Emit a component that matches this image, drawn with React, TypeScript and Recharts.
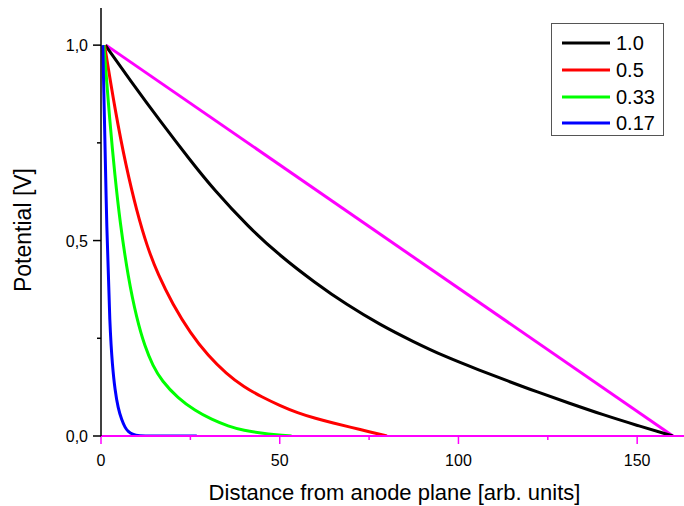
import { LineChart, Line, XAxis, YAxis, Legend, Label } from 'recharts';

// curves: x = distance, v = potential
const blackX = [1.2, 8, 17, 25, 31.4, 41.2, 50.1, 59.9, 68.7, 78, 87.4, 96, 106, 114, 121.9, 131, 140.5, 150, 160];
const blackV = [1.0, 0.912, 0.8, 0.705, 0.632, 0.535, 0.461, 0.392, 0.336, 0.285, 0.241, 0.204, 0.168, 0.14, 0.113, 0.084, 0.054, 0.027, 0.0];

const redX = [1, 4, 7, 10, 13, 16, 20, 25, 30, 35, 40, 45, 50, 55, 60, 65, 70, 75, 80];
const redV = [1.0, 0.83, 0.69, 0.575, 0.482, 0.412, 0.338, 0.263, 0.205, 0.16, 0.125, 0.1, 0.078, 0.059, 0.045, 0.033, 0.022, 0.011, 0.0];

const greenX = [0.8, 2.5, 3.9, 5.3, 7.6, 10, 12.3, 14.5, 17, 21.5, 26.3, 31, 35.6, 40, 44.9, 49, 53.3];
const greenV = [1.0, 0.8, 0.665, 0.548, 0.405, 0.3, 0.228, 0.18, 0.141, 0.097, 0.065, 0.042, 0.025, 0.014, 0.007, 0.003, 0.0];

const blueX = [0.5, 0.9, 1.6, 2.5, 3.2, 3.9, 4.8, 5.8, 6.7, 7.6, 8.8, 10.4, 15, 20, 26.8];
const blueV = [1.0, 0.842, 0.527, 0.271, 0.18, 0.118, 0.07, 0.041, 0.022, 0.011, 0.004, 0.0, 0.0, 0.0, 0.0];

const magentaX = [1.4, 160];
const magentaV = [1.0, 0.0];

const xTicks = [0, 25, 50, 75, 100, 125, 150];
const xLabels = [0, 50, 100, 150];
const yTicks = [0, 0.25, 0.5, 0.75, 1.0];
const yLabels = [0, 0.5, 1.0];
const seriesNames = ['1.0', '0.5', '0.33', '0.17'];

const FONT = '"Liberation Sans", Arial, sans-serif';

const zip = (xs: number[], vs: number[]) => xs.map((x, i) => ({ x, v: vs[i] }));

function XTick(props: any) {
  const { x, y, payload } = props;
  const major = xLabels.includes(payload.value);
  return (
    <g>
      <line x1={x} x2={x} y1={y} y2={y + (major ? 8 : 4)} stroke="#ff00ff" strokeWidth={1.5} />
      {major && (
        <text x={x} y={y + 30} textAnchor="middle" fontSize={16} fill="#000" fontFamily={FONT}>
          {payload.value}
        </text>
      )}
    </g>
  );
}

function YTick(props: any) {
  const { x, y, payload } = props;
  const major = yLabels.includes(payload.value);
  return (
    <g>
      <line x1={x - (major ? 8 : 4)} x2={x} y1={y} y2={y} stroke="#000" strokeWidth={1.5} />
      {major && (
        <text x={x - 13} y={y + 6} textAnchor="end" fontSize={16} fill="#000" fontFamily={FONT}>
          {payload.value.toFixed(1).replace('.', ',')}
        </text>
      )}
    </g>
  );
}

function LegendBox(props: any) {
  const items = (props.payload || [])
    .filter((p: any) => seriesNames.includes(p.value))
    .sort((a: any, b: any) => seriesNames.indexOf(a.value) - seriesNames.indexOf(b.value));
  return (
    <div
      style={{
        border: '1.5px solid #555',
        boxSizing: 'border-box',
        width: 113,
        height: 113,
        paddingTop: 6,
        paddingLeft: 10,
        background: '#fff',
        fontFamily: FONT,
      }}
    >
      {items.map((it: any) => (
        <div key={it.value} style={{ display: 'flex', alignItems: 'center', height: 26.7 }}>
          <svg width={48} height={6} style={{ display: 'block' }}>
            <line x1={0} x2={48} y1={3} y2={3} stroke={it.color} strokeWidth={3} />
          </svg>
          <span style={{ marginLeft: 6, fontSize: 20, color: '#000', lineHeight: '20px' }}>{it.value}</span>
        </div>
      ))}
    </div>
  );
}

export default function App() {
  return (
    <div style={{ position: 'absolute', left: 0, top: 0, background: '#fff' }}>
      <LineChart width={684} height={506} margin={{ top: 8, right: 0, bottom: 0, left: 0 }} style={{ fontFamily: FONT }}>
        <XAxis
          dataKey="x"
          type="number"
          domain={[0, 163.1]}
          allowDataOverflow
          ticks={xTicks}
          interval={0}
          height={70}
          tickSize={0}
          tickMargin={0}
          tickLine={false}
          axisLine={{ stroke: '#ff00ff', strokeWidth: 2 }}
          tick={<XTick />}
        >
          <Label
            content={(p: any) => {
              const vb = p.viewBox;
              return (
                <text x={vb.x + vb.width / 2 + 2} y={vb.y + 64} textAnchor="middle" fontSize={22} fill="#000" fontFamily={FONT}>
                  Distance from anode plane [arb. units]
                </text>
              );
            }}
          />
        </XAxis>
        <YAxis
          type="number"
          domain={[0, 1.095]}
          allowDataOverflow
          ticks={yTicks}
          interval={0}
          width={101}
          tickSize={0}
          tickMargin={0}
          tickLine={false}
          axisLine={{ stroke: '#000', strokeWidth: 1.5 }}
          tick={<YTick />}
        >
          <Label
            content={(p: any) => {
              const vb = p.viewBox;
              const cy = vb.y + vb.height / 2 + 8;
              return (
                <text x={31} y={cy} transform={`rotate(-90 31 ${cy})`} textAnchor="middle" fontSize={23} fill="#000" fontFamily={FONT}>
                  Potential [V]
                </text>
              );
            }}
          />
        </YAxis>
        <Legend
          layout="horizontal"
          verticalAlign="middle"
          align="center"
          wrapperStyle={{ left: 551, top: 23, width: 113, height: 113 }}
          content={<LegendBox />}
        />
        <Line data={zip(magentaX, magentaV)} dataKey="v" type="linear" stroke="#ff00ff" strokeWidth={3} dot={false} legendType="none" isAnimationActive={false} />
        <Line data={zip(blackX, blackV)} dataKey="v" name={seriesNames[0]} type="basis" stroke="#000000" strokeWidth={3} dot={false} isAnimationActive={false} />
        <Line data={zip(redX, redV)} dataKey="v" name={seriesNames[1]} type="basis" stroke="#ff0000" strokeWidth={3} dot={false} isAnimationActive={false} />
        <Line data={zip(greenX, greenV)} dataKey="v" name={seriesNames[2]} type="basis" stroke="#00ff00" strokeWidth={3} dot={false} isAnimationActive={false} />
        <Line data={zip(blueX, blueV)} dataKey="v" name={seriesNames[3]} type="basis" stroke="#0000ff" strokeWidth={3} dot={false} isAnimationActive={false} />
      </LineChart>
    </div>
  );
}
